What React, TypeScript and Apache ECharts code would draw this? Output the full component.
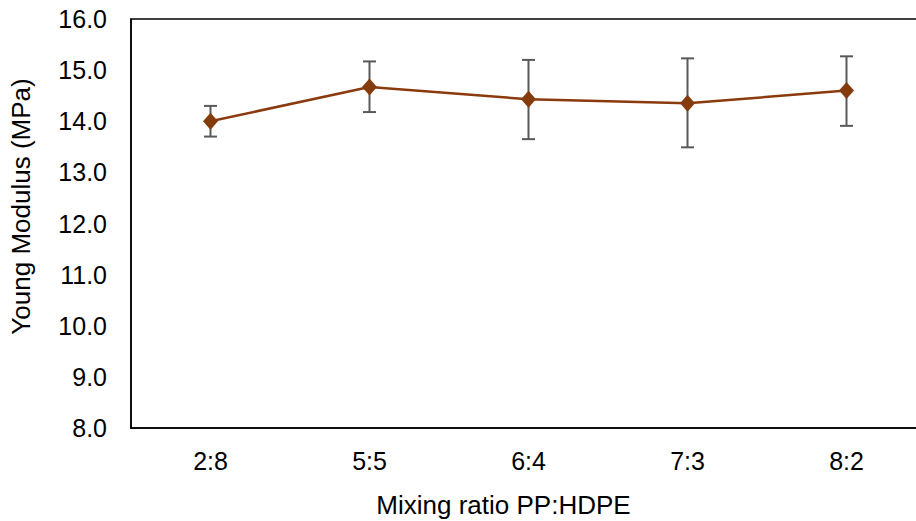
import React, { useEffect, useRef } from "react";
import * as echarts from "echarts";

const categories = ["2:8", "5:5", "6:4", "7:3", "8:2"];
const youngModulus = [14.0, 14.67, 14.43, 14.35, 14.6];
const errorPlus = [0.3, 0.5, 0.77, 0.88, 0.67];
const errorMinus = [0.3, 0.49, 0.78, 0.86, 0.69];

const FONT = "'Liberation Sans', Arial, sans-serif";

export default function App() {
  const ref = useRef<HTMLDivElement>(null);
  useEffect(() => {
    if (!ref.current) return;
    const chart = echarts.init(ref.current, null, { renderer: "svg" });
    const errData = categories.map((_, i) => [
      i,
      youngModulus[i] - errorMinus[i],
      youngModulus[i] + errorPlus[i],
    ]);
    chart.setOption({
      animation: false,
      backgroundColor: "#fff",
      grid: {
        left: 131,
        top: 19,
        width: 795,
        height: 409,
        show: true,
        borderColor: "#000",
        borderWidth: 1.5,
        containLabel: false,
        outerBoundsMode: "none",
      },
      xAxis: {
        type: "category",
        data: categories,
        boundaryGap: true,
        axisLine: { show: true, lineStyle: { color: "#000", width: 1.5 } },
        axisTick: { show: false },
        axisLabel: { color: "#000", fontSize: 25, fontFamily: FONT, margin: 20 },
        splitLine: { show: false },
        name: "Mixing ratio PP:HDPE",
        nameLocation: "middle",
        nameGap: 64,
        nameTextStyle: {
          color: "#000",
          fontSize: 26,
          fontFamily: FONT,
          lineHeight: 26,
          padding: [0, 50, 0, 0],
        },
      },
      yAxis: {
        type: "value",
        min: 8,
        max: 16,
        interval: 1,
        axisLine: { show: true, lineStyle: { color: "#000", width: 1.5 } },
        axisTick: { show: false },
        splitLine: { show: false },
        axisLabel: {
          color: "#000",
          fontSize: 25,
          fontFamily: FONT,
          margin: 24,
          formatter: (v: number) => v.toFixed(1),
        },
        name: "Young Modulus (MPa)",
        nameLocation: "middle",
        nameGap: 97,
        nameRotate: 90,
        nameTextStyle: {
          color: "#000",
          fontSize: 26,
          fontFamily: FONT,
          padding: [0, 0, 0, 34],
        },
      },
      series: [
        {
          type: "custom",
          z: 1,
          data: errData,
          encode: { x: 0, y: [1, 2] },
          renderItem: (params: any, api: any) => {
            const x = api.value(0);
            const lo = api.coord([x, api.value(1)]);
            const hi = api.coord([x, api.value(2)]);
            const cap = 6.5;
            const style = { stroke: "#595959", lineWidth: 2 };
            return {
              type: "group",
              children: [
                { type: "line", shape: { x1: lo[0], y1: lo[1], x2: hi[0], y2: hi[1] }, style },
                { type: "line", shape: { x1: lo[0] - cap, y1: lo[1], x2: lo[0] + cap, y2: lo[1] }, style },
                { type: "line", shape: { x1: hi[0] - cap, y1: hi[1], x2: hi[0] + cap, y2: hi[1] }, style },
              ],
            };
          },
        },
        {
          type: "line",
          z: 3,
          data: youngModulus,
          symbol: "diamond",
          symbolSize: [15, 17],
          lineStyle: { color: "#8B3A0E", width: 2.5 },
          itemStyle: { color: "#843C0C" },
        },
      ],
    });
    return () => chart.dispose();
  }, []);
  return (
    <div
      ref={ref}
      style={{ position: "fixed", left: 0, top: 0, width: 916, height: 521 }}
    />
  );
}
